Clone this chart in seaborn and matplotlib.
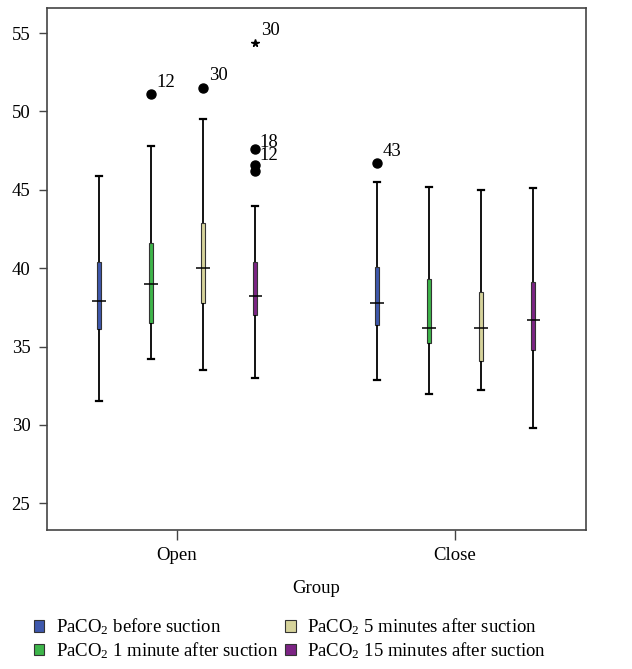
import numpy as np
import pandas as pd
import matplotlib
matplotlib.use("Agg")
import matplotlib.pyplot as plt
import seaborn as sns
from matplotlib.patches import Patch

# -------------------------
# Data
# -------------------------
groups = ["Open", "Close"]
times = [
    "PaCO$_2$ before suction",
    "PaCO$_2$ 1 minute after suction",
    "PaCO$_2$ 5 minutes after suction",
    "PaCO$_2$ 15 minutes after suction",
]
colors = ["#3e58ac", "#3db54a", "#d6d39b", "#7c2484"]

# five-number summaries: whisker low, Q1, median, Q3, whisker high
open_stats = [
    [31.5, 36.1, 37.9, 40.4, 45.9],
    [34.2, 36.5, 39.0, 41.6, 47.8],
    [33.5, 37.8, 40.0, 42.9, 49.5],
    [33.0, 37.0, 38.2, 40.4, 44.0],
]
close_stats = [
    [32.9, 36.4, 37.8, 40.1, 45.5],
    [32.0, 35.2, 36.2, 39.3, 45.2],
    [32.2, 34.1, 36.2, 38.5, 45.0],
    [29.8, 34.8, 36.7, 39.1, 45.1],
]

# outliers: group, time index, value, case label, marker
out_group = ["Open", "Open", "Open", "Open", "Open", "Open", "Close"]
out_time = [1, 2, 3, 3, 3, 3, 0]
out_value = [51.1, 51.5, 54.4, 47.6, 46.6, 46.2, 46.7]
out_label = ["12", "30", "30", "18\n12", "", "", "43"]
out_marker = ["o", "o", "*", "o", "o", "o", "o"]

# -------------------------
# Build long table
# -------------------------
rows = []
for g, stats in zip(groups, [open_stats, close_stats]):
    for t, vals in zip(times, stats):
        for v in vals:
            rows.append({"Group": g, "Time": t, "PaCO2": v})
df = pd.DataFrame(rows)

serif = "Liberation Serif"
plt.rcParams["font.family"] = [serif, "DejaVu Serif"]
plt.rcParams["mathtext.fontset"] = "custom"
plt.rcParams["mathtext.rm"] = serif
plt.rcParams["mathtext.it"] = serif

FS = 13.5

fig = plt.figure(figsize=(6.32, 6.69), dpi=100)
ax = fig.add_axes([0.0744, 0.2078, 0.8528, 0.7802])

width = 0.75
gap = 0.92
n = len(times)

sns.boxplot(
    data=df, x="Group", y="PaCO2", hue="Time",
    order=groups, hue_order=times, palette=colors, saturation=1,
    width=width, gap=gap, whis=np.inf, dodge=True,
    linewidth=0.8, linecolor="#333333",
    whiskerprops={"color": "black", "linewidth": 1.3},
    capprops={"color": "black", "linewidth": 1.6},
    medianprops={"visible": False},
    capwidths=0.022,
    legend=False, ax=ax,
)

# median ticks (wider than the narrow boxes)
step = width / n
for gi, stats in enumerate([open_stats, close_stats]):
    for ti, vals in enumerate(stats):
        xc = gi + (ti - (n - 1) / 2) * step
        ax.hlines(vals[2], xc - 0.024, xc + 0.024, color="black", lw=1.1, zorder=4)

# outliers with case labels
for g, t, v, lab, m in zip(out_group, out_time, out_value, out_label, out_marker):
    xc = groups.index(g) + (t - (n - 1) / 2) * step
    ax.plot(xc, v, marker=m, color="black", ms=6.5 if m == "o" else 5.5, zorder=5)
    if lab:
        if "\n" in lab:
            ax.annotate(lab, (xc, v), xytext=(3, 0), textcoords="offset points",
                        ha="left", va="center", fontsize=FS, linespacing=0.72)
        else:
            ax.annotate(lab, (xc, v), xytext=(4, 2.5), textcoords="offset points",
                        ha="left", va="bottom", fontsize=FS)

ax.set_xlim(-0.468, 1.471)
ax.set_ylim(23.3, 56.6)
ax.set_yticks([25, 30, 35, 40, 45, 50, 55])
ax.set_xlabel("Group", fontsize=FS, labelpad=12)
ax.set_ylabel("")
ax.tick_params(axis="both", labelsize=FS, color="#444444", direction="out")
ax.tick_params(axis="y", length=6, width=1, pad=6)
ax.tick_params(axis="x", length=7, width=1, pad=5)
for s in ax.spines.values():
    s.set_color("#444444")
    s.set_linewidth(1.2)

handles = [Patch(facecolor=c, edgecolor="#333333", linewidth=0.8) for c in colors]
fig.legend(
    handles, times, ncol=2, loc="lower left", bbox_to_anchor=(0.027, -0.013),
    frameon=False, fontsize=FS, handlelength=0.55, handleheight=0.55,
    handletextpad=0.6, columnspacing=0.4, labelspacing=0.15,
)

fig.savefig("out.png", dpi=100)
